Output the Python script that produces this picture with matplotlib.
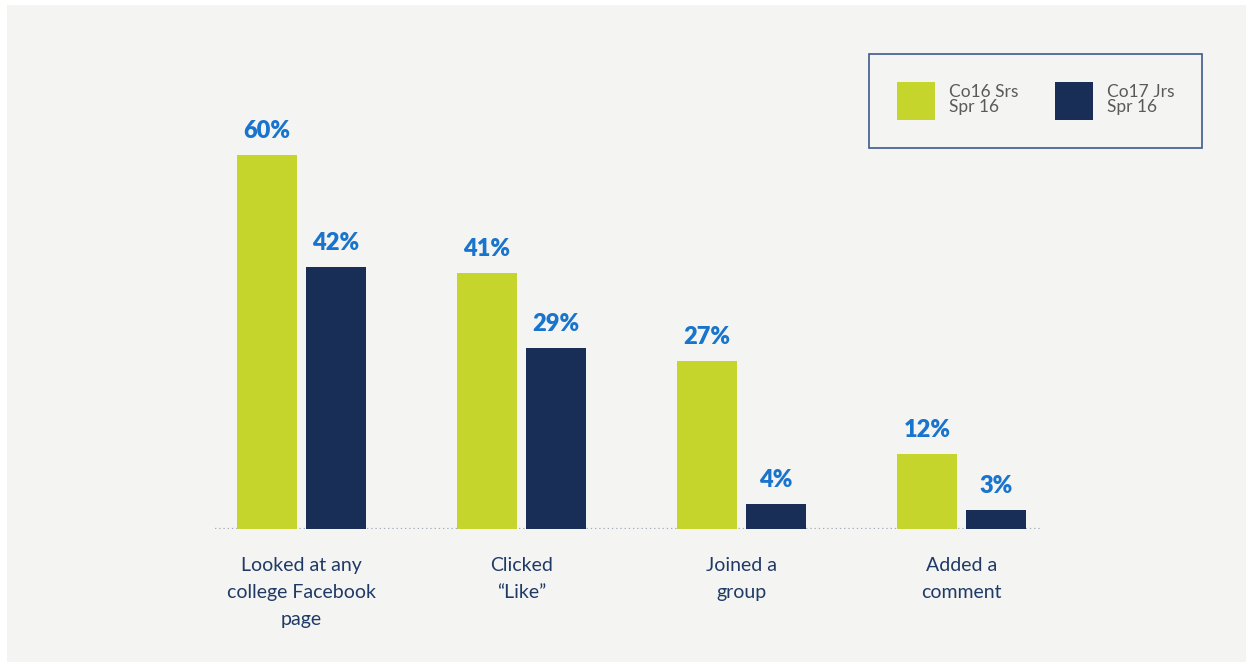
import numpy as np
import matplotlib
matplotlib.use("Agg")
import matplotlib.pyplot as plt
from matplotlib.patches import Rectangle, Patch

# ── Data ──────────────────────────────────────────────────────────────────────
categories = ["Looked at any\ncollege Facebook\npage", "Clicked\n\u201cLike\u201d",
              "Joined a\ngroup", "Added a\ncomment"]
series_names = ["Co16 Srs\nSpr 16", "Co17 Jrs\nSpr 16"]
seniors = [60, 41, 27, 12]
juniors = [42, 29, 4, 3]

GREEN = "#c5d52b"
NAVY = "#182e57"
VALUE_BLUE = "#1874cc"
LABEL_NAVY = "#1f3a66"
PANEL = "#f4f4f2"

plt.rcParams["font.family"] = ["Lato", "DejaVu Sans"]

fig = plt.figure(figsize=(12.52, 6.64), dpi=100, facecolor="white")
# light grey panel behind everything
fig.patches.append(Rectangle((7 / 1252, 2 / 664), 1239 / 1252, 657 / 664,
                             transform=fig.transFigure, facecolor=PANEL,
                             edgecolor="none", zorder=-10))

ax = fig.add_axes([215 / 1252, 135 / 664, 827 / 1252, 436.3 / 664])
ax.set_facecolor("none")

x = np.arange(len(categories))
w = 60 / 220
off = 34.5 / 220
b1 = ax.bar(x - off, seniors, width=w, color=GREEN, label=series_names[0])
b2 = ax.bar(x + off, juniors, width=w, color=NAVY, label=series_names[1])

for bars, vals in ((b1, seniors), (b2, juniors)):
    for rect, v in zip(bars, vals):
        ax.annotate(f"{v}%", (rect.get_x() + rect.get_width() / 2, v),
                    xytext=(0, 9.5), textcoords="offset points",
                    ha="center", va="bottom", fontsize=17, fontweight="heavy",
                    color=VALUE_BLUE)

ax.axhline(0, color="#a3aabb", lw=1.6, ls=(0, (0.6, 1.3)), zorder=0)

ax.set_xlim(-0.393, 3.366)
ax.set_ylim(0, 70)
ax.set_xticks(x)
ax.set_xticklabels(categories, fontsize=14, color=LABEL_NAVY, linespacing=1.72)
ax.tick_params(axis="x", length=0, pad=20)
ax.set_yticks([])
for s in ax.spines.values():
    s.set_visible(False)

fs = 12.5
leg = fig.legend(handles=[Patch(facecolor=GREEN), Patch(facecolor=NAVY)],
                 labels=series_names, ncol=2, loc="upper right",
                 bbox_to_anchor=(1202 / 1252, 1 - 54 / 664), borderaxespad=0,
                 fontsize=fs, handlelength=2.19, handleheight=2.99,
                 handletextpad=0.81, columnspacing=2.07, borderpad=1.6,
                 fancybox=False, framealpha=1, facecolor=PANEL,
                 edgecolor="#3e5a8c", labelspacing=0.2)
leg.get_frame().set_linewidth(1.2)
for t in leg.get_texts():
    t.set_color("#5a5a5a")
    t.set_linespacing(0.97)

fig.savefig("out.png", dpi=100, facecolor="white")
